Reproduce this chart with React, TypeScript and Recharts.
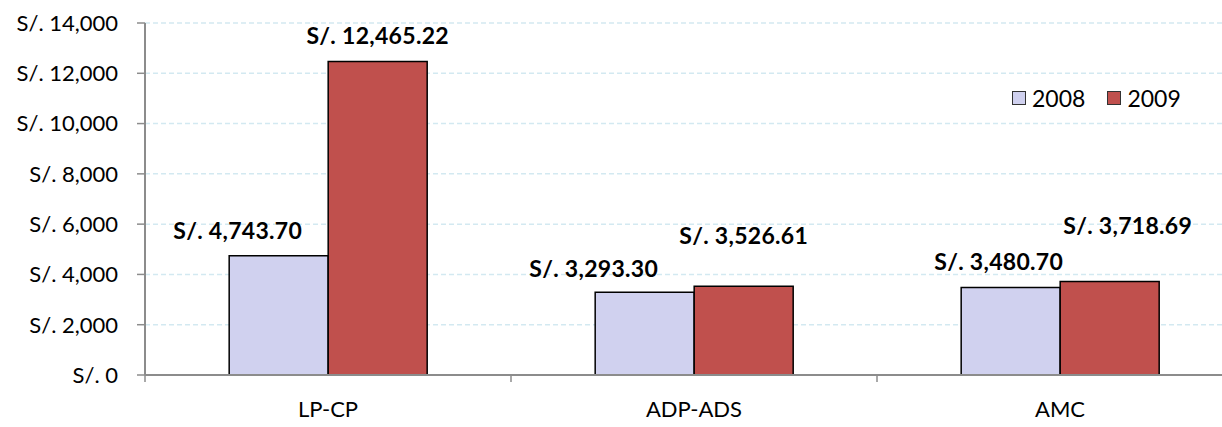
import { BarChart, Bar, XAxis, YAxis, CartesianGrid, LabelList } from 'recharts';

const categories = ['LP-CP', 'ADP-ADS', 'AMC'];
const values2008 = [4743.7, 3293.3, 3480.7];
const values2009 = [12465.22, 3526.61, 3718.69];
const yTicks = [0, 2000, 4000, 6000, 8000, 10000, 12000, 14000];
const seriesNames = ['2008', '2009'];

const data = categories.map((name, i) => ({
    name,
    y2008: values2008[i],
    y2009: values2009[i],
}));

// Excel had the labels dragged by hand, so nudge them the same way
const labelNudge: Record<string, { dx: number; dy: number }[]> = {
    y2008: [
        { dx: -41, dy: -26 },
        { dx: -51, dy: -24 },
        { dx: -12, dy: -26 },
    ],
    y2009: [
        { dx: 0, dy: -27 },
        { dx: 0, dy: -51 },
        { dx: 18, dy: -57 },
    ],
};

const COLORS = ['#d0d1ef', '#c0504d'];
const FONT = 'Lato, "Open Sans", sans-serif';
const CHART_W = 1250;
const Y_AXIS_W = 145;
const MARGIN_RIGHT = 7;
const BAND = (CHART_W - Y_AXIS_W - MARGIN_RIGHT) / categories.length;

const money = (v: number, digits = 0) =>
    'S/. ' +
    v.toLocaleString('en-US', { minimumFractionDigits: digits, maximumFractionDigits: digits });

const makeLabel = (key: string) => (props: any) => {
    const { x, y, width, value, index } = props;
    const n = labelNudge[key][index] || { dx: 0, dy: -20 };
    return (
        <text
            x={Number(x) + Number(width) / 2 + n.dx}
            y={Number(y) + n.dy}
            textAnchor='middle'
            dominantBaseline='central'
            fontFamily={FONT}
            fontWeight='bold'
            fontSize={23}
            letterSpacing={0.3}
            fill='#000'
        >
            {money(Number(value), 2)}
        </text>
    );
};

const CategoryTick = (props: any) => {
    const { x, y, payload } = props;
    const left = x - BAND / 2;
    return (
        <g>
            <line x1={left} y1={y} x2={left} y2={y + 7} stroke='#8c8c8c' strokeWidth={1.5} />
            <text
                x={x}
                y={y + 33}
                textAnchor='middle'
                dominantBaseline='central'
                fontFamily={FONT}
                fontSize={22}
                fill='#000'
            >
                {payload.value}
            </text>
        </g>
    );
};

const LegendBox = () => (
    <div
        style={{
            position: 'absolute',
            left: 1012,
            top: 84,
            display: 'flex',
            alignItems: 'center',
            fontFamily: FONT,
            fontSize: 23,
            color: '#000',
        }}
    >
        {seriesNames.map((s, i) => (
            <div key={s} style={{ display: 'flex', alignItems: 'center', marginRight: i === 0 ? 22 : 0 }}>
                <span
                    style={{
                        width: 12,
                        height: 12,
                        background: COLORS[i],
                        border: '1.5px solid #333',
                        marginRight: 6,
                    }}
                />
                <span>{s}</span>
            </div>
        ))}
    </div>
);

const App = () => {
    return (
        <div
            style={{
                position: 'fixed',
                top: 0,
                left: 0,
                width: 1222,
                height: 427,
                overflow: 'hidden',
                background: '#fff',
            }}
        >
            <BarChart
                width={CHART_W}
                height={427}
                data={data}
                margin={{ top: 23, right: MARGIN_RIGHT, left: 0, bottom: 0 }}
                barCategoryGap='23%'
                barGap={0}
            >
                <CartesianGrid vertical={false} stroke='#d3e9f1' strokeDasharray='5 3' strokeWidth={1.5} />
                <XAxis
                    dataKey='name'
                    height={52}
                    tickLine={false}
                    tickSize={0}
                    tickMargin={0}
                    axisLine={{ stroke: '#8c8c8c', strokeWidth: 2 }}
                    tick={<CategoryTick />}
                    interval={0}
                />
                <YAxis
                    width={Y_AXIS_W}
                    domain={[0, 14000]}
                    ticks={yTicks}
                    interval={0}
                    tickFormatter={(v: number) => money(v)}
                    tickSize={8}
                    tickMargin={19}
                    tickLine={{ stroke: '#8c8c8c', strokeWidth: 1.5 }}
                    axisLine={{ stroke: '#8c8c8c', strokeWidth: 2 }}
                    tick={{ fontFamily: FONT, fontSize: 22, fill: '#000' }}
                />
                <Bar dataKey='y2008' name='2008' fill={COLORS[0]} stroke='#000' strokeWidth={1.5} isAnimationActive={false}>
                    <LabelList dataKey='y2008' content={makeLabel('y2008')} />
                </Bar>
                <Bar dataKey='y2009' name='2009' fill={COLORS[1]} stroke='#000' strokeWidth={1.5} isAnimationActive={false}>
                    <LabelList dataKey='y2009' content={makeLabel('y2009')} />
                </Bar>
            </BarChart>
            <LegendBox />
        </div>
    );
};

export default App;
